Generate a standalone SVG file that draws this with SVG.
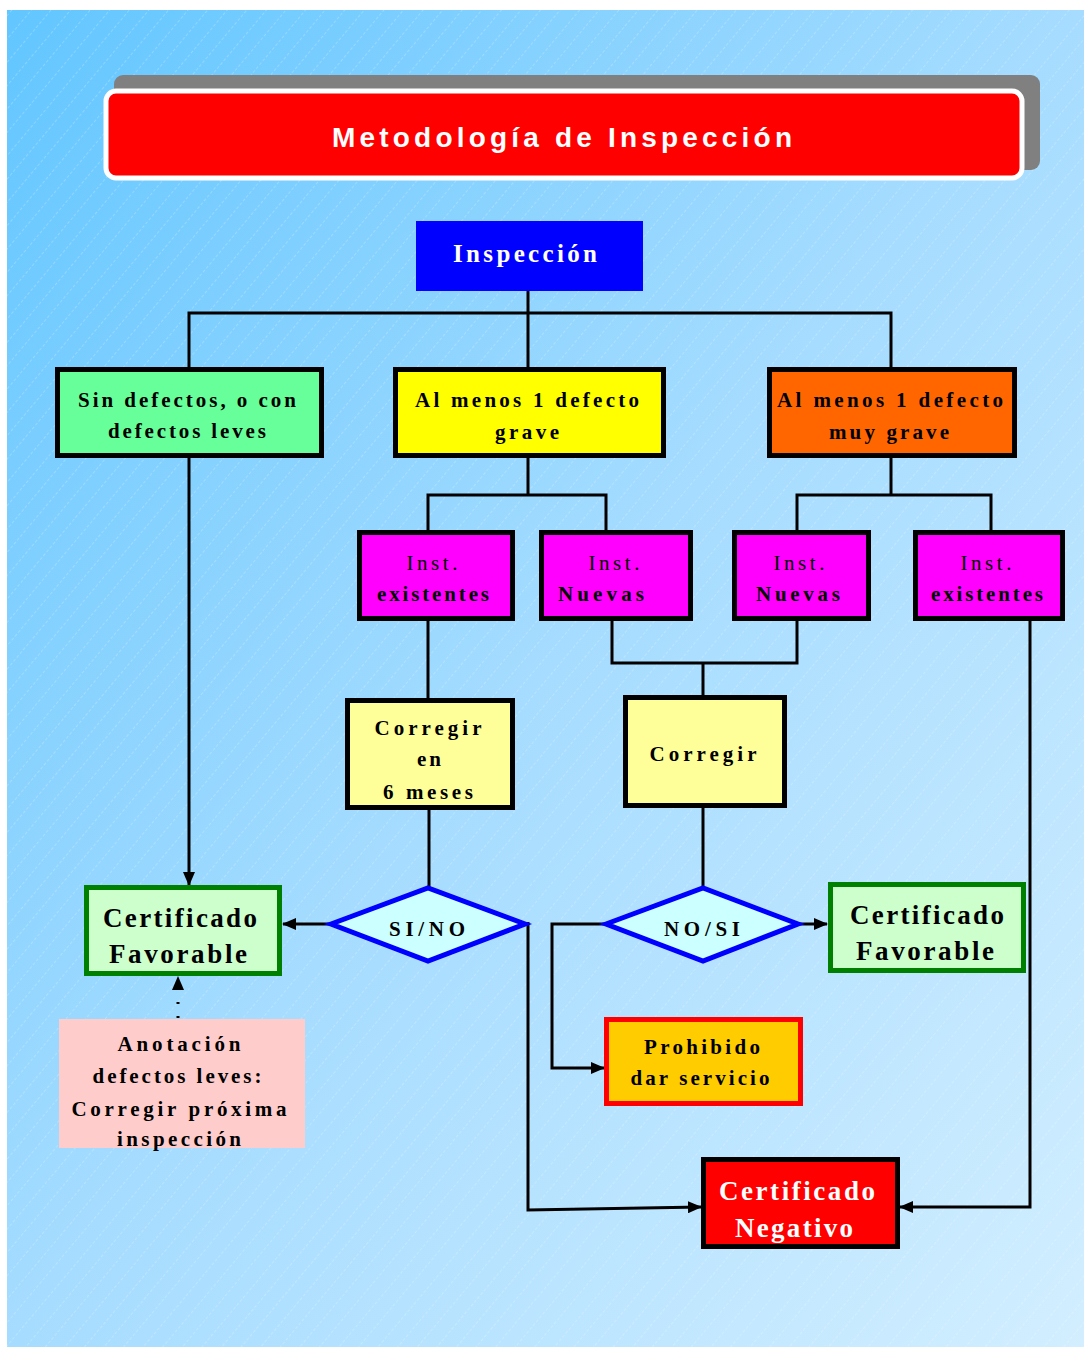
<svg xmlns="http://www.w3.org/2000/svg" width="1084" height="1347" viewBox="0 0 1084 1347">
<defs>
<linearGradient id="bg" x1="0" y1="0" x2="1" y2="1">
<stop offset="0" stop-color="#62c6ff"/>
<stop offset="0.5" stop-color="#a6dcff"/>
<stop offset="1" stop-color="#d2eeff"/>
</linearGradient>
<pattern id="hatch" width="15" height="15" patternUnits="userSpaceOnUse" patternTransform="rotate(40)">
<line x1="0" y1="0" x2="0" y2="15" stroke="#ffffff" stroke-opacity="0.55" stroke-width="0.8" stroke-dasharray="3 2"/>
</pattern>
<marker id="arr" markerUnits="userSpaceOnUse" markerWidth="14" markerHeight="12" refX="13" refY="6" orient="auto">
<path d="M0,0 L14,6 L0,12 z" fill="#000"/>
</marker>
</defs>
<style>
.t{font-family:"Liberation Serif","Times New Roman",serif;font-weight:bold;font-size:21px;fill:#000;text-anchor:middle}
.r{font-weight:normal}
.big{font-size:27px}
.w{fill:#fff}
.box{stroke:#000;stroke-width:5}
.c{fill:none;stroke:#000;stroke-width:3}
</style>
<rect x="0" y="0" width="1084" height="1347" fill="#fff"/>
<rect x="7" y="10" width="1077" height="1337" fill="url(#bg)"/>
<rect x="7" y="10" width="1077" height="1337" fill="url(#hatch)"/>

<g id="title">
<rect x="114" y="75" width="926" height="95" rx="9" fill="#808080"/>
<rect x="106" y="91" width="916" height="87" rx="10" fill="#ff0000" stroke="#fff" stroke-width="5"/>
<text x="562" y="147" textLength="460" lengthAdjust="spacing" style="font-family:'Liberation Sans',Arial,sans-serif;font-weight:bold;font-size:28px;fill:#fff;text-anchor:middle">Metodología de Inspección</text>
</g>

<g id="connectors">
<path class="c" d="M189,367 V313 H891 V367 M528,291 V367"/>
<path class="c" d="M189,458 V885" marker-end="url(#arr)"/>
<path class="c" d="M528,458 V495 M428,531 V495 H606 V530"/>
<path class="c" d="M891,458 V495 M797,530 V495 H991 V530"/>
<path class="c" d="M428,620 V698"/>
<path class="c" d="M612,620 V663 H797 V620 M703,663 V695"/>
<path class="c" d="M429,810 V887"/>
<path class="c" d="M703,808 V887"/>
<path class="c" d="M331,924 H283" marker-end="url(#arr)"/>
<path class="c" d="M178,1018 V977" stroke-dasharray="2 12" marker-end="url(#arr)"/>
<path class="c" d="M798,924 H827" marker-end="url(#arr)"/>
<path class="c" d="M606,924 H552 V1068 H604" marker-end="url(#arr)"/>
<path class="c" d="M528,922 V1210 L701,1207" marker-end="url(#arr)"/>
<path class="c" d="M1030,619 V1207 H900" marker-end="url(#arr)"/>
</g>

<g id="inspeccion">
<rect x="416" y="221" width="227" height="70" fill="#0000ff"/>
<text class="t w" x="525" y="262" style="font-size:25px" textLength="144" lengthAdjust="spacing">Inspección</text>
</g>

<g id="sin-defectos">
<rect class="box" x="57.5" y="369.5" width="264" height="86" fill="#66ff99"/>
<text class="t" x="187" y="407" textLength="218" lengthAdjust="spacing">Sin defectos, o con</text>
<text class="t" x="187" y="438" textLength="158" lengthAdjust="spacing">defectos leves</text>
</g>

<g id="defecto-grave">
<rect class="box" x="395.5" y="369.5" width="268" height="86" fill="#ffff00"/>
<text class="t" x="527" y="407" textLength="224" lengthAdjust="spacing">Al menos 1 defecto</text>
<text class="t" x="527" y="439" textLength="64" lengthAdjust="spacing">grave</text>
</g>

<g id="defecto-muy-grave">
<rect class="box" x="769.5" y="369.5" width="245" height="86" fill="#ff6600"/>
<text class="t" x="890" y="407" textLength="226" lengthAdjust="spacing">Al menos 1 defecto</text>
<text class="t" x="889" y="439" textLength="120" lengthAdjust="spacing">muy grave</text>
</g>

<g id="inst-existentes-1">
<rect class="box" x="359.5" y="532.5" width="153" height="86" fill="#ff00ff"/>
<text class="t r" x="432" y="570" textLength="51" lengthAdjust="spacing">Inst.</text>
<text class="t" x="433" y="601" textLength="112" lengthAdjust="spacing">existentes</text>
</g>

<g id="inst-nuevas-1">
<rect class="box" x="541.5" y="532.5" width="149" height="86" fill="#ff00ff"/>
<text class="t r" x="614" y="570" textLength="51" lengthAdjust="spacing">Inst.</text>
<text class="t" x="601" y="601" textLength="86" lengthAdjust="spacing">Nuevas</text>
</g>

<g id="inst-nuevas-2">
<rect class="box" x="734.5" y="532.5" width="134" height="86" fill="#ff00ff"/>
<text class="t r" x="799" y="570" textLength="51" lengthAdjust="spacing">Inst.</text>
<text class="t" x="798" y="601" textLength="84" lengthAdjust="spacing">Nuevas</text>
</g>

<g id="inst-existentes-2">
<rect class="box" x="915.5" y="532.5" width="147" height="86" fill="#ff00ff"/>
<text class="t r" x="986" y="570" textLength="51" lengthAdjust="spacing">Inst.</text>
<text class="t" x="987" y="601" textLength="112" lengthAdjust="spacing">existentes</text>
</g>

<g id="corregir-6-meses">
<rect class="box" x="347.5" y="700.5" width="165" height="107" fill="#ffff99"/>
<text class="t" x="428" y="735" textLength="107" lengthAdjust="spacing">Corregir</text>
<text class="t" x="429" y="766" textLength="24" lengthAdjust="spacing">en</text>
<text class="t" x="428" y="799" textLength="90" lengthAdjust="spacing">6 meses</text>
</g>

<g id="corregir">
<rect class="box" x="625.5" y="697.5" width="159" height="108" fill="#ffff99"/>
<text class="t" x="703" y="761" textLength="107" lengthAdjust="spacing">Corregir</text>
</g>

<g id="si-no">
<polygon points="331,924 428,888 525,924 428,961" fill="#ccffff" stroke="#0000ff" stroke-width="5" stroke-linejoin="miter"/>
<text class="t" x="427" y="936" textLength="76" lengthAdjust="spacing">SI/NO</text>
</g>

<g id="no-si">
<polygon points="606,924 703,888 798,924 703,961" fill="#ccffff" stroke="#0000ff" stroke-width="5" stroke-linejoin="miter"/>
<text class="t" x="702" y="936" textLength="76" lengthAdjust="spacing">NO/SI</text>
</g>

<g id="certificado-favorable-1">
<rect x="86.5" y="887.5" width="193" height="86" fill="#ccffcc" stroke="#008000" stroke-width="5"/>
<text class="t big" x="180" y="927" textLength="154" lengthAdjust="spacing">Certificado</text>
<text class="t big" x="178" y="963" textLength="138" lengthAdjust="spacing">Favorable</text>
</g>

<g id="anotacion">
<rect x="59" y="1019" width="246" height="129" fill="#ffcccc"/>
<text class="t" x="179" y="1051" textLength="123" lengthAdjust="spacing">Anotación</text>
<text class="t" x="177" y="1083" textLength="169" lengthAdjust="spacing">defectos leves:</text>
<text class="t" x="179" y="1116" textLength="215" lengthAdjust="spacing">Corregir próxima</text>
<text class="t" x="179" y="1146" textLength="124" lengthAdjust="spacing">inspección</text>
</g>

<g id="certificado-favorable-2">
<rect x="830.5" y="884.5" width="193" height="86" fill="#ccffcc" stroke="#008000" stroke-width="5"/>
<text class="t big" x="927" y="924" textLength="154" lengthAdjust="spacing">Certificado</text>
<text class="t big" x="925" y="960" textLength="138" lengthAdjust="spacing">Favorable</text>
</g>

<g id="prohibido">
<rect x="606.5" y="1019.5" width="194" height="84" fill="#ffcc00" stroke="#ff0000" stroke-width="5"/>
<text class="t" x="702" y="1054" textLength="116" lengthAdjust="spacing">Prohibido</text>
<text class="t" x="700" y="1085" textLength="139" lengthAdjust="spacing">dar servicio</text>
</g>

<g id="certificado-negativo">
<rect class="box" x="703.5" y="1159.5" width="194" height="87" fill="#ff0000"/>
<text class="t big w" x="797" y="1200" textLength="156" lengthAdjust="spacing">Certificado</text>
<text class="t big w" x="794" y="1237" textLength="118" lengthAdjust="spacing">Negativo</text>
</g>
</svg>
